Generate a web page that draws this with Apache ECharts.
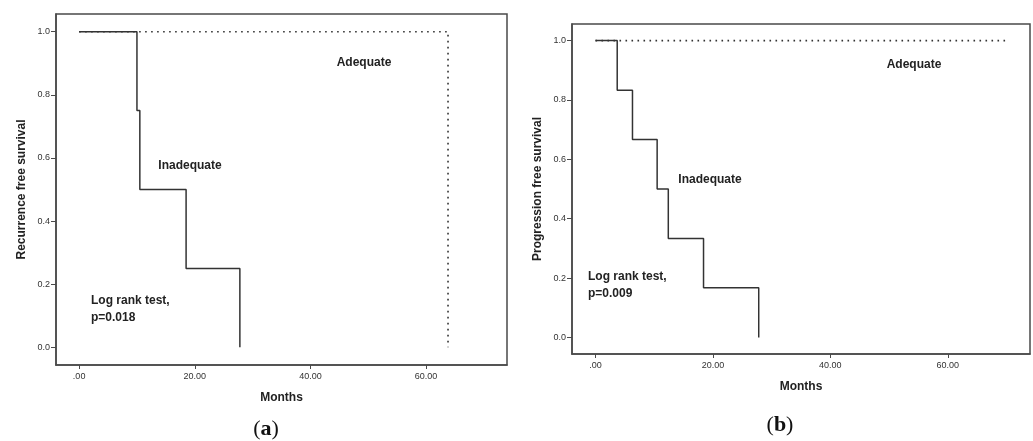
<!DOCTYPE html>
<html>
<head>
<meta charset="utf-8">
<script src="https://cdn.jsdelivr.net/npm/echarts@6/dist/echarts.min.js"></script>
<style>
	html, body { margin: 0; padding: 0; background: #fff; }
	#chart { width: 1033px; height: 441px; }
</style>
</head>
<body>
<div id="chart"></div>
<script>
// panel (a) - recurrence free survival
var recInadTime = [0, 10, 10.5, 18.5, 27.8];
var recInadSurv = [1, 0.75, 0.5, 0.25, 0];
var recAdeqTime = [0, 63.8];
var recAdeqSurv = [1, 0];

// panel (b) - progression free survival
var progInadTime = [0, 3.7, 6.3, 10.5, 12.4, 18.4, 27.8];
var progInadSurv = [1, 0.833, 0.667, 0.5, 0.333, 0.167, 0];
var progAdeqTime = [0, 70];
var progAdeqSurv = [1, 1];

var xTicks = [0, 20, 40, 60];
var yTicks = [0, 0.2, 0.4, 0.6, 0.8, 1.0];

var lineColor = '#333';
var boxColor = '#4a4a4a';

function pairs(t, s) {
	var out = [];
	for (var i = 0; i < t.length; i++) {
		out.push([t[i], s[i]]);
	}
	return out;
}

function makeX(idx) {
	return {
		type: 'value',
		gridIndex: idx,
		min: -4,
		max: 74,
		name: 'Months',
		nameLocation: 'middle',
		nameGap: 27,
		nameTextStyle: { fontFamily: 'Liberation Sans', fontWeight: 'bold', fontSize: 12, color: '#222' },
		axisLine: { show: true, onZero: false, lineStyle: { color: boxColor, width: 1.5 } },
		axisTick: { show: true, length: 4, customValues: xTicks, lineStyle: { color: boxColor } },
		axisLabel: {
			customValues: xTicks,
			margin: 7,
			fontFamily: 'Liberation Sans',
			fontSize: 9,
			color: '#333',
			formatter: function (v) { return v === 0 ? '.00' : v.toFixed(2); }
		},
		splitLine: { show: false }
	};
}

function makeY(idx, title) {
	return {
		type: 'value',
		gridIndex: idx,
		min: -0.056,
		max: 1.056,
		name: title,
		nameLocation: 'middle',
		nameGap: 28,
		nameRotate: 90,
		nameTextStyle: { fontFamily: 'Liberation Sans', fontWeight: 'bold', fontSize: 12, color: '#222' },
		axisLine: { show: true, onZero: false, lineStyle: { color: boxColor, width: 1.5 } },
		axisTick: { show: true, length: 5, customValues: yTicks, lineStyle: { color: boxColor } },
		axisLabel: {
			customValues: yTicks,
			margin: 6,
			fontFamily: 'Liberation Sans',
			fontSize: 9,
			color: '#333',
			formatter: function (v) { return v.toFixed(1); }
		},
		splitLine: { show: false }
	};
}

function curve(idx, t, s, dotted) {
	return {
		type: 'line',
		xAxisIndex: idx,
		yAxisIndex: idx,
		step: 'end',
		symbol: 'none',
		silent: true,
		z: dotted ? 2 : 3,
		lineStyle: { color: lineColor, width: dotted ? 1.6 : 1.5, type: dotted ? [1.6, 4.4] : 'solid' },
		data: pairs(t, s)
	};
}

function label(x, y, text, align) {
	return {
		type: 'text',
		x: x,
		y: y,
		style: {
			text: text,
			textAlign: align || 'center',
			textVerticalAlign: 'middle',
			fontFamily: 'Liberation Sans',
			fontWeight: 'bold',
			fontSize: 12,
			lineHeight: 17,
			fill: '#222'
		}
	};
}

function caption(x, y, letter) {
	return {
		type: 'text',
		x: x,
		y: y,
		style: {
			text: '{p|(}{b|' + letter + '}{p|)}',
			textAlign: 'center',
			textVerticalAlign: 'middle',
			rich: {
				p: { fontFamily: 'Liberation Serif', fontSize: 22, fill: '#111' },
				b: { fontFamily: 'Liberation Serif', fontWeight: 'bold', fontSize: 22, fill: '#111' }
			}
		}
	};
}

var chart = echarts.init(document.getElementById('chart'));

chart.setOption({
	animation: false,
	backgroundColor: '#fff',
	grid: [
		{ left: 56, top: 14, width: 451, height: 351, show: true, borderColor: boxColor, borderWidth: 1.5 },
		{ left: 572, top: 24, width: 458, height: 330, show: true, borderColor: boxColor, borderWidth: 1.5 }
	],
	xAxis: [makeX(0), makeX(1)],
	yAxis: [makeY(0, 'Recurrence free survival'), makeY(1, 'Progression free survival')],
	series: [
		curve(0, recAdeqTime, recAdeqSurv, true),
		curve(0, recInadTime, recInadSurv, false),
		curve(1, progAdeqTime, progAdeqSurv, true),
		curve(1, progInadTime, progInadSurv, false)
	],
	graphic: [
		label(364, 63, 'Adequate'),
		label(190, 166, 'Inadequate'),
		label(91, 309, 'Log rank test,\np=0.018', 'left'),
		label(914, 65, 'Adequate'),
		label(710, 180, 'Inadequate'),
		label(588, 285, 'Log rank test,\np=0.009', 'left'),
		caption(266, 429, 'a'),
		caption(780, 425, 'b')
	]
});
</script>
</body>
</html>
